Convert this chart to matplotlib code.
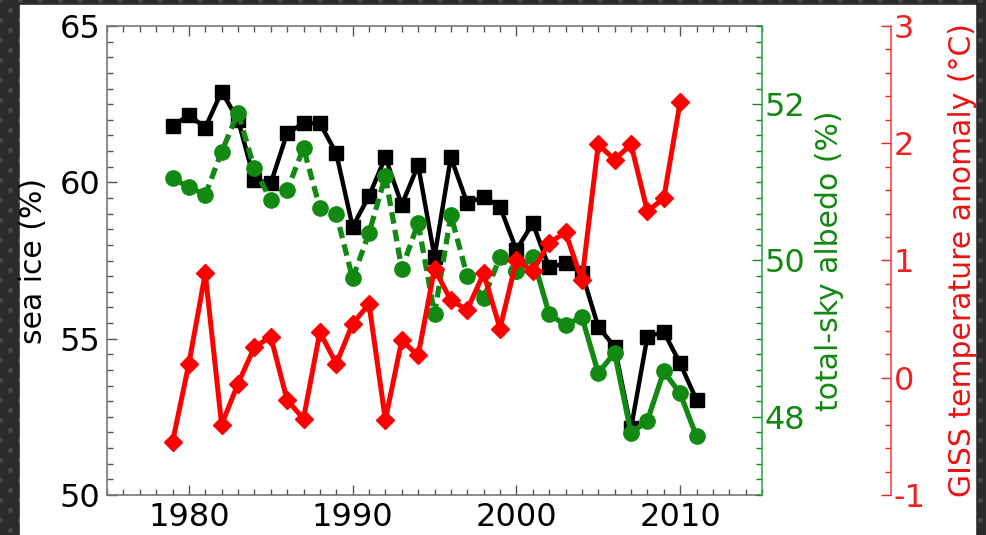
import numpy as np
import matplotlib
matplotlib.use("Agg")
import matplotlib.pyplot as plt
from matplotlib.ticker import MultipleLocator, FixedLocator
from matplotlib.patches import Rectangle

plt.rcParams['font.family'] = ['DejaVu Sans']
plt.rcParams['axes.unicode_minus'] = False

years = list(range(1979, 2012))
sea_ice = [61.8, 62.15, 61.75, 62.9, 62.0, 60.08, 59.97, 61.57, 61.89, 61.89,
           60.93, 58.58, 59.56, 60.80, 59.28, 60.55, 57.62, 60.80, 59.33, 59.54,
           59.22, 57.84, 58.69, 57.28, 57.41, 57.11, 55.38, 54.74, 52.13, 55.06,
           55.22, 54.21, 53.04]
albedo = [51.05, 50.94, 50.84, 51.39, 51.89, 51.18, 50.77, 50.90, 51.44, 50.67,
          50.60, 49.77, 50.35, 51.08, 49.89, 50.48, 49.32, 50.58, 49.80, 49.52,
          50.04, 49.86, 50.04, 49.32, 49.17, 49.28, 48.56, 48.82, 47.79, 47.95,
          48.58, 48.30, 47.75]
giss_years = list(range(1979, 2011))
giss = [-0.55, 0.12, 0.89, -0.40, -0.05, 0.26, 0.35, -0.19, -0.35, 0.39,
        0.12, 0.46, 0.63, -0.36, 0.32, 0.19, 0.93, 0.66, 0.58, 0.89,
        0.42, 1.00, 0.91, 1.15, 1.24, 0.83, 1.99, 1.86, 1.99, 1.42,
        1.53, 2.35]
split_year = 2000

W, H = 986, 535
fig = plt.figure(figsize=(W / 100, H / 100), dpi=100)
fig.patch.set_facecolor('#2b2b2b')

# decorative background
bg = fig.add_axes([0, 0, 1, 1], zorder=-10)
bg.set_xlim(0, W)
bg.set_ylim(H, 0)
bg.axis('off')
gx, gy = np.meshgrid(np.arange(0, W + 20, 20), np.arange(0, H + 20, 20))
bg.scatter(gx.ravel(), gy.ravel(), s=14, color='#474747', lw=0)
bg.scatter(gx.ravel() + 10, gy.ravel() + 10, s=14, color='#474747', lw=0)
bg.add_patch(Rectangle((20, 5), 955, 540, color='white', zorder=2))

TFS = 23
LFS = 21.5
left, right, top, bottom = 107, 762, 26, 495
pw = right - left
ax = fig.add_axes([left / W, (H - bottom) / H, pw / W, (bottom - top) / H])
ax.set_xlim(1975, 2015)
ax.set_ylim(50, 65)
ax.xaxis.set_major_locator(MultipleLocator(10))
ax.xaxis.set_minor_locator(MultipleLocator(1))
ax.yaxis.set_major_locator(MultipleLocator(5))
ax.yaxis.set_minor_locator(MultipleLocator(0.5))
ax.tick_params(which='both', direction='in', top=True, right=False, labelsize=TFS,
               color='#555555', width=1)
ax.tick_params(which='major', length=7, pad=5)
ax.tick_params(which='minor', length=4)
for s in ['left', 'bottom', 'top']:
    ax.spines[s].set_color('#777777')
    ax.spines[s].set_linewidth(1.2)
ax.spines['right'].set_visible(False)
ax.set_ylabel('sea ice (%)', fontsize=LFS)
ax.yaxis.set_label_coords((48 - left) / pw, 0.5)

ax2 = ax.twinx()
ax2.set_ylim(47, 53)
ax2.yaxis.set_major_locator(FixedLocator([48, 50, 52]))
ax2.yaxis.set_minor_locator(MultipleLocator(0.2))
ax2.tick_params(which='both', direction='in', labelsize=TFS, colors='#118811', width=1)
ax2.tick_params(which='major', length=7, pad=2)
ax2.tick_params(which='minor', length=4)
ax2.spines['right'].set_color('#33aa55')
ax2.spines['right'].set_linewidth(1.2)
for s in ['left', 'bottom', 'top']:
    ax2.spines[s].set_visible(False)
ax2.set_ylabel('total-sky albedo (%)', fontsize=LFS, color='#118811')
ax2.yaxis.set_label_coords((815 - left) / pw, 0.5)

ax3 = ax.twinx()
ax3.set_ylim(-1, 3)
ax3.spines['right'].set_position(('axes', (891 - left) / pw))
ax3.yaxis.set_major_locator(MultipleLocator(1))
ax3.yaxis.set_minor_locator(MultipleLocator(0.2))
ax3.tick_params(which='both', direction='in', labelsize=TFS, colors='#ee2222', width=1)
ax3.tick_params(which='major', length=7, pad=2)
ax3.tick_params(which='minor', length=4)
ax3.spines['right'].set_color('#ee4444')
ax3.spines['right'].set_linewidth(1.2)
for s in ['left', 'bottom', 'top']:
    ax3.spines[s].set_visible(False)
ax3.set_ylabel('GISS temperature anomaly (°C)', fontsize=LFS, color='#ee1111')
ax3.yaxis.set_label_coords((948 - left) / pw, 0.5)

# data
ax3.plot(giss_years, giss, color='#ff0000', lw=3.6, marker='D', ms=9, zorder=3)

yrs = np.array(years)
alb = np.array(albedo)
m1 = yrs <= split_year
m2 = yrs >= split_year
ax2.plot(yrs[m1], alb[m1], color='#128a12', lw=3.8, ls=(0, (2.2, 1.2)), marker='o', ms=11,
         zorder=4)
ax2.plot(yrs[m2], alb[m2], color='#128a12', lw=3.8, marker='o', ms=11, zorder=4)

ax4 = ax.twinx()
ax4.set_ylim(50, 65)
ax4.axis('off')
ax4.plot(years, sea_ice, color='black', lw=3.2, marker='s', ms=9.5, zorder=5)

# layering: sea ice under albedo, GISS on top
ax.set_zorder(1)
ax.patch.set_visible(False)
ax4.set_zorder(2)
ax2.set_zorder(3)
ax3.set_zorder(4)
for a in (ax2, ax3, ax4):
    a.patch.set_visible(False)

fig.savefig('out.png', dpi=100, facecolor=fig.get_facecolor())
